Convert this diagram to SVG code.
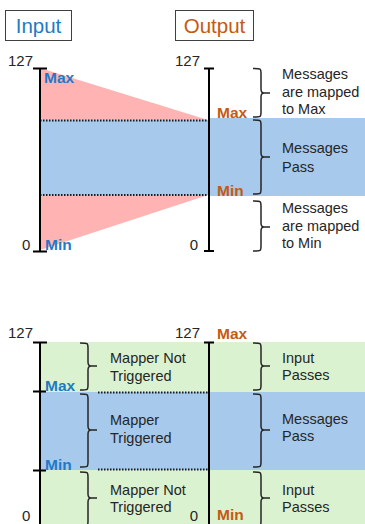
<svg xmlns="http://www.w3.org/2000/svg" width="365" height="524" viewBox="0 0 365 524">
<style>
.t{font-family:"Liberation Sans",Arial,sans-serif;font-size:14.5px;fill:#262626}
.n{font-family:"Liberation Sans",Arial,sans-serif;font-size:15px;fill:#262626}
.bi{font-family:"Liberation Sans",Arial,sans-serif;font-size:15.5px;font-weight:bold;fill:#1f7ac6}
.bo{font-family:"Liberation Sans",Arial,sans-serif;font-size:15.5px;font-weight:bold;fill:#c55a11}
.ax{stroke:#000;stroke-width:2;fill:none}
.br{stroke:#262626;stroke-width:1.5;fill:none}
.dot{stroke:#1a1a1a;stroke-width:2;stroke-dasharray:1.5 1.5;fill:none}
</style>
<rect width="365" height="524" fill="#fff"/>
<g id="backgrounds">
<polygon points="40,68 208,120 40,120" fill="#ffb3b3"/>
<polygon points="40,195 208,195 40,250" fill="#ffb3b3"/>
<rect x="40" y="120" width="169" height="75" fill="#a6c9ec"/>
<rect x="209" y="118" width="156" height="78" fill="#a6c9ec"/>
<rect x="40" y="342" width="325" height="182" fill="#daf2d0"/>
<rect x="40" y="392" width="325" height="78" fill="#a6c9ec"/>
</g>
<g id="title-input">
<rect x="5.5" y="10.5" width="66" height="30" fill="#fff" stroke="#404040" stroke-width="1"/>
<text x="38.5" y="33" text-anchor="middle" font-family="Liberation Sans, Arial, sans-serif" font-size="20.5" fill="#1f7ac6">Input</text>
</g>
<g id="title-output">
<rect x="175.5" y="10.5" width="78" height="30" fill="#fff" stroke="#404040" stroke-width="1"/>
<text x="214.5" y="33" text-anchor="middle" font-family="Liberation Sans, Arial, sans-serif" font-size="20.5" fill="#c55a11">Output</text>
</g>
<g id="connectors">
<path class="dot" d="M40,120.5H208M40,195H208M98,392.5H208M98,469.5H208"/>
</g>
<g id="axis-top-input">
<path class="ax" d="M40,68V252M33,68.5H47M33,251.5H47"/>
<text class="n" x="8" y="66">127</text>
<text class="n" x="22" y="250">0</text>
<text class="bi" x="44" y="83">Max</text>
<text class="bi" x="45" y="250">Min</text>
</g>
<g id="axis-top-output">
<path class="ax" d="M209,68V252M204,68.5H214M204,251H214"/>
<text class="n" x="200" y="66" text-anchor="end">127</text>
<text class="n" x="198" y="250" text-anchor="end">0</text>
<text class="bo" x="217" y="118">Max</text>
<text class="bo" x="217" y="196">Min</text>
</g>
<g id="brace-top-1">
<path class="br" d="M253,68.5C261,68.5 261,68.5 261,73V89Q261,93 264,93H270M264,93Q261,93 261,97V112C261,117 261,117 253,117"/>
<text class="t" x="282" y="79">Messages</text>
<text class="t" x="282" y="97">are mapped</text>
<text class="t" x="282" y="114">to Max</text>
</g>
<g id="brace-top-2">
<path class="br" d="M253,120C261,120 261,120 261,125V153Q261,157 264,157H270M264,157Q261,157 261,161V189C261,194 261,194 253,194"/>
<text class="t" x="282" y="153">Messages</text>
<text class="t" x="282" y="172">Pass</text>
</g>
<g id="brace-top-3">
<path class="br" d="M253,201C261,201 261,201 261,206V223Q261,227 264,227H270M264,227Q261,227 261,231V246C261,251 261,251 253,251"/>
<text class="t" x="282" y="213">Messages</text>
<text class="t" x="282" y="231">are mapped</text>
<text class="t" x="282" y="248">to Min</text>
</g>
<g id="axis-bottom-input">
<path class="ax" d="M40,342V524M33,342.5H47M33,391.5H46M33,470.5H46"/>
<text class="n" x="8" y="338">127</text>
<text class="n" x="22" y="521">0</text>
<text class="bi" x="45" y="391">Max</text>
<text class="bi" x="45" y="470">Min</text>
</g>
<g id="axis-bottom-output">
<path class="ax" d="M209,342V524M204,342.5H214"/>
<text class="n" x="200" y="338" text-anchor="end">127</text>
<text class="n" x="198" y="521" text-anchor="end">0</text>
<text class="bo" x="217" y="520">Min</text>
<text class="bo" x="217" y="339">Max</text>
</g>
<g id="brace-bottom-left-1">
<path class="br" d="M80,343C88,343 88,343 88,348V362Q88,366 91,366H97M91,366Q88,366 88,370V385C88,390 88,390 80,390"/>
<text class="t" x="110" y="363">Mapper Not</text>
<text class="t" x="110" y="381">Triggered</text>
</g>
<g id="brace-bottom-left-2">
<path class="br" d="M80,394C88,394 88,394 88,399V426Q88,430 91,430H97M91,430Q88,430 88,434V462C88,467 88,467 80,467"/>
<text class="t" x="110" y="425">Mapper</text>
<text class="t" x="110" y="443">Triggered</text>
</g>
<g id="brace-bottom-left-3">
<path class="br" d="M80,472C88,472 88,472 88,477V494Q88,498 91,498H97M91,498Q88,498 88,502V521C88,526 88,526 80,526"/>
<text class="t" x="110" y="495">Mapper Not</text>
<text class="t" x="110" y="512">Triggered</text>
</g>
<g id="brace-bottom-right-1">
<path class="br" d="M253,343C261,343 261,343 261,348V362Q261,366 264,366H270M264,366Q261,366 261,370V385C261,390 261,390 253,390"/>
<text class="t" x="282" y="363">Input</text>
<text class="t" x="282" y="380">Passes</text>
</g>
<g id="brace-bottom-right-2">
<path class="br" d="M253,394C261,394 261,394 261,399V426Q261,430 264,430H270M264,430Q261,430 261,434V462C261,467 261,467 253,467"/>
<text class="t" x="282" y="424">Messages</text>
<text class="t" x="282" y="441">Pass</text>
</g>
<g id="brace-bottom-right-3">
<path class="br" d="M253,472C261,472 261,472 261,477V494Q261,498 264,498H270M264,498Q261,498 261,502V521C261,526 261,526 253,526"/>
<text class="t" x="282" y="495">Input</text>
<text class="t" x="282" y="512">Passes</text>
</g>
</svg>
